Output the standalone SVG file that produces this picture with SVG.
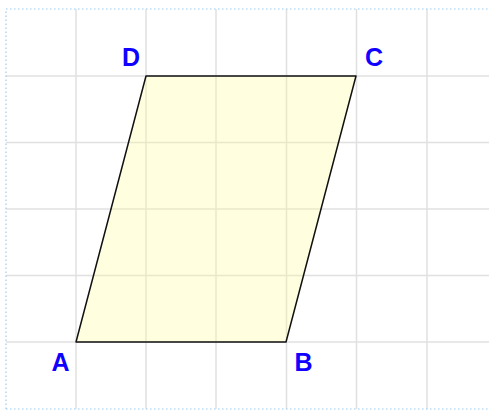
<svg xmlns="http://www.w3.org/2000/svg" width="489" height="410" viewBox="0 0 489 410">
<style>
.grid line{stroke:#e0e0e0;stroke-width:1.5}
.lbl{font-family:"Liberation Sans",Arial,sans-serif;font-weight:bold;font-size:25px;fill:#1000ff}
</style>
<rect width="489" height="410" fill="#fff"/>
<g class="grid">
<line x1="76" y1="9" x2="76" y2="409"/>
<line x1="146" y1="9" x2="146" y2="409"/>
<line x1="216" y1="9" x2="216" y2="409"/>
<line x1="286.5" y1="9" x2="286.5" y2="409"/>
<line x1="356.5" y1="9" x2="356.5" y2="409"/>
<line x1="427" y1="9" x2="427" y2="409"/>
<line x1="6" y1="76" x2="489" y2="76"/>
<line x1="6" y1="142.5" x2="489" y2="142.5"/>
<line x1="6" y1="209" x2="489" y2="209"/>
<line x1="6" y1="275.5" x2="489" y2="275.5"/>
<line x1="6" y1="342" x2="489" y2="342"/>
</g>
<path d="M6 409 V9 H489 M6 409 H489" fill="none" stroke="#99ccee" stroke-width="1.2" stroke-dasharray="1.5 2.5"/>
<g id="shape">
<polygon points="76,342 286,342 356,76 146,76" fill="#ffff99" fill-opacity="0.3" stroke="#111" stroke-width="1.5" stroke-linejoin="round"/>
</g>
<g id="A"><text class="lbl" x="60.5" y="371" text-anchor="middle">A</text></g>
<g id="B"><text class="lbl" x="303.5" y="371" text-anchor="middle">B</text></g>
<g id="C"><text class="lbl" x="374" y="66" text-anchor="middle">C</text></g>
<g id="D"><text class="lbl" x="131" y="66" text-anchor="middle">D</text></g>
</svg>
